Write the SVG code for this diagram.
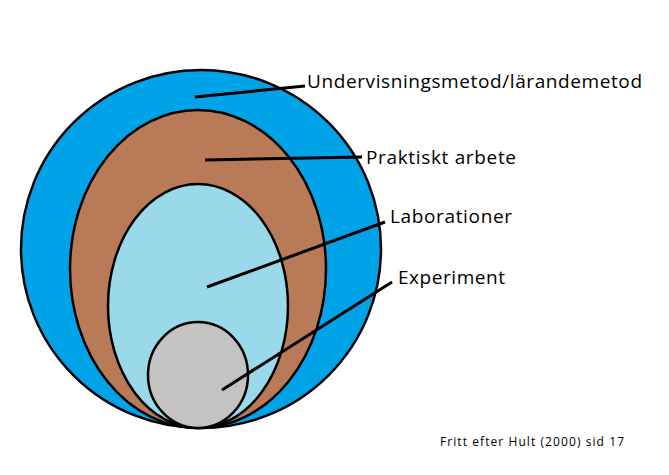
<svg xmlns="http://www.w3.org/2000/svg" width="669" height="475" viewBox="0 0 669 475">
<style>
.s{stroke:#000;stroke-width:2.5}
.l{stroke:#000;stroke-width:3;fill:none}
.t{font-family:"Open Sans","Noto Sans",sans-serif;font-size:19px;fill:#000}
</style>
<rect width="669" height="475" fill="#fff"/>
<g id="undervisning"><ellipse class="s" cx="201" cy="249" rx="180" ry="179" fill="#00A2E8"/></g>
<g id="praktiskt"><ellipse class="s" cx="198" cy="269" rx="128" ry="159" fill="#B97A57"/></g>
<g id="laborationer"><ellipse class="s" cx="198" cy="306" rx="90" ry="122" fill="#99D9EA"/></g>
<g id="experiment"><ellipse class="s" cx="198" cy="375" rx="50" ry="53" fill="#C3C3C3"/></g>
<g id="connectors">
<line class="l" x1="195" y1="97" x2="305" y2="86"/>
<line class="l" x1="205" y1="160" x2="362" y2="157"/>
<line class="l" x1="207" y1="287" x2="385" y2="222"/>
<line class="l" x1="222" y1="390" x2="392" y2="282"/>
</g>
<g id="labels">
<text class="t" x="307" y="88" textLength="335">Undervisningsmetod/lärandemetod</text>
<text class="t" x="366" y="164" textLength="150">Praktiskt arbete</text>
<text class="t" x="390" y="223" textLength="122">Laborationer</text>
<text class="t" x="398" y="284" textLength="107">Experiment</text>
<text x="440" y="446" font-family="Open Sans, Noto Sans, sans-serif" font-size="12" textLength="184">Fritt efter Hult (2000) sid 17</text>
</g>
</svg>
